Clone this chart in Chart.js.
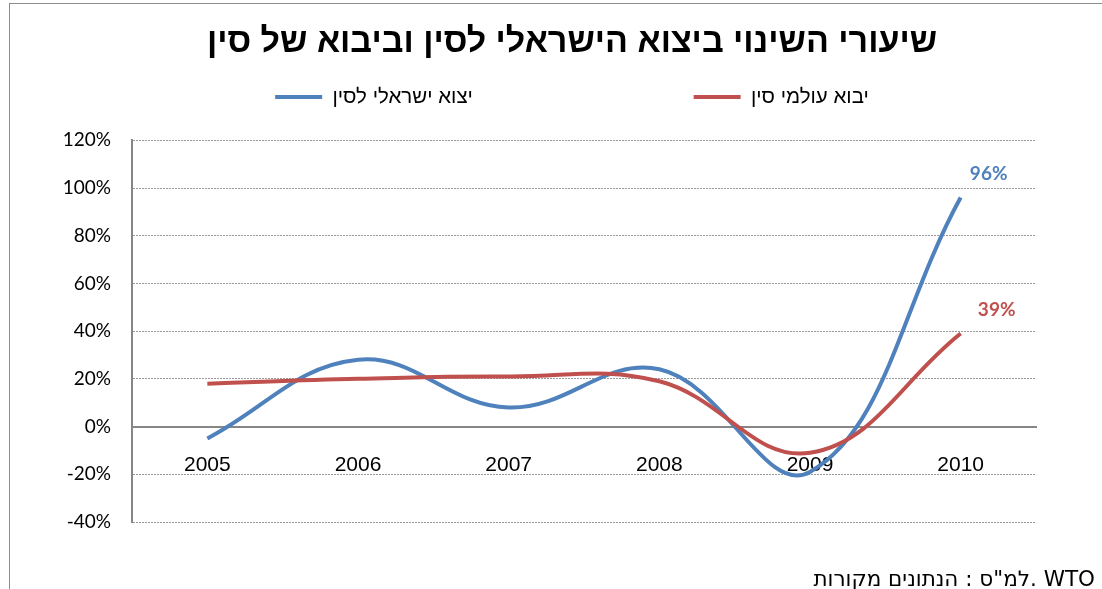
<!DOCTYPE html>
<html>
<head>
<meta charset="utf-8">
<script src="https://cdn.jsdelivr.net/npm/chart.js@4/dist/chart.umd.min.js"></script>
<style>
  html, body { margin: 0; padding: 0; background: #fff; overflow: hidden; }
  body { width: 1102px; height: 589px; position: relative; }
  #frame {
    position: absolute; left: 9px; top: 3px; width: 1200px; height: 700px;
    border: 1px solid #8c8c8c; box-sizing: border-box;
  }
  #wrap { position: absolute; left: 10px; top: 4px; width: 1092px; height: 585px; }
  #source {
    position: absolute; right: 7px; top: 567px; direction: ltr; white-space: nowrap;
    font-family: "DejaVu Sans", sans-serif; font-size: 21.5px; line-height: 24px; color: #000;
  }
</style>
</head>
<body>
<div id="frame"></div>
<div id="wrap"><canvas id="chart" width="1092" height="585"></canvas></div>
<div id="source"><bdi>מקורות</bdi> <bdi>הנתונים</bdi> : <bdi>למ"ס</bdi>. WTO</div>
<script>
// --- Data ---
const years = ["2005", "2006", "2007", "2008", "2009", "2010"];
const exportIsrael = [-5, 28, 8, 24, -19, 96];
const importChina = [18, 20, 21, 19, -11, 39];
const seriesNames = ["יצוא ישראלי לסין", "יבוא עולמי סין"];
const chartTitle = "שיעורי השינוי ביצוא הישראלי לסין וביבוא של סין";

const BLUE = "#4f81bd";
const RED = "#c0504d";
const AXIS = "#868686";

// label on the last point of each line
const lastLabel = {
  id: "lastLabel",
  afterDatasetsDraw(chart) {
    const ctx = chart.ctx;
    const offsets = [[28, -24], [36, -24]];
    chart.data.datasets.forEach((ds, i) => {
      const meta = chart.getDatasetMeta(i);
      const pt = meta.data[meta.data.length - 1];
      ctx.save();
      ctx.font = "bold 19px Lato";
      ctx.fillStyle = ds.borderColor;
      ctx.textAlign = "center";
      ctx.textBaseline = "middle";
      ctx.fillText(ds.data[ds.data.length - 1] + "%", pt.x + offsets[i][0], pt.y + offsets[i][1]);
      ctx.restore();
    });
  }
};

// extra room under the legend
const legendGap = {
  id: "legendGap",
  beforeInit(chart) {
    const fit = chart.legend.fit;
    chart.legend.fit = function () {
      fit.call(this);
      this.height += 23;
    };
  }
};

new Chart(document.getElementById("chart"), {
  type: "line",
  data: {
    labels: years,
    datasets: [
      {
        label: seriesNames[0], data: exportIsrael, order: 1,
        borderColor: BLUE, backgroundColor: BLUE,
        borderWidth: 4, tension: 0.4, pointRadius: 0, fill: false
      },
      {
        label: seriesNames[1], data: importChina, order: 0,
        borderColor: RED, backgroundColor: RED,
        borderWidth: 4, tension: 0.4, pointRadius: 0, fill: false
      }
    ]
  },
  plugins: [lastLabel, legendGap],
  options: {
    responsive: false,
    animation: false,
    layout: { padding: { left: 52, right: 20, top: 2, bottom: 67 } },
    plugins: {
      tooltip: { enabled: false },
      title: {
        display: true,
        text: chartTitle,
        color: "#000",
        font: { size: 34, weight: "bold", family: "Liberation Sans" },
        padding: { top: 16, bottom: 14 }
      },
      legend: {
        labels: {
          color: "#000",
          font: { size: 20.5, family: "Liberation Sans" },
          boxWidth: 47,
          boxHeight: 4,
          padding: 10,
          generateLabels(chart) {
            return Chart.defaults.plugins.legend.labels.generateLabels(chart)
              .sort((a, b) => a.datasetIndex - b.datasetIndex)
              .map(l => ({
                ...l,
                lineWidth: 0,
                text: l.datasetIndex === 0 ? l.text + " ".repeat(37) : l.text
              }));
          }
        }
      }
    },
    scales: {
      x: {
        type: "category",
        offset: true,
        position: { y: 0 },
        grid: { display: false, drawTicks: false },
        border: { color: AXIS, width: 2 },
        ticks: {
          color: "#000",
          padding: 26,
          font: { size: 21, family: "Liberation Sans" }
        }
      },
      y: {
        min: -40,
        max: 120,
        afterFit(scale) { scale.width = 70; },
        ticks: {
          stepSize: 20,
          padding: 21,
          color: "#000",
          font: { size: 19, family: "Lato" },
          callback: v => v + "%"
        },
        grid: { color: "#9a9a9a", lineWidth: 1, drawTicks: false },
        border: { color: AXIS, width: 2, dash: [2, 1] }
      },
      // empty right-hand strip so the title and legend sit where the original has them
      spacer: {
        type: "linear",
        axis: "y",
        position: "right",
        min: 0,
        max: 1,
        afterFit(scale) { scale.width = 46; },
        ticks: { display: false },
        grid: { display: false, drawTicks: false },
        border: { display: false }
      }
    }
  }
});
</script>
</body>
</html>
